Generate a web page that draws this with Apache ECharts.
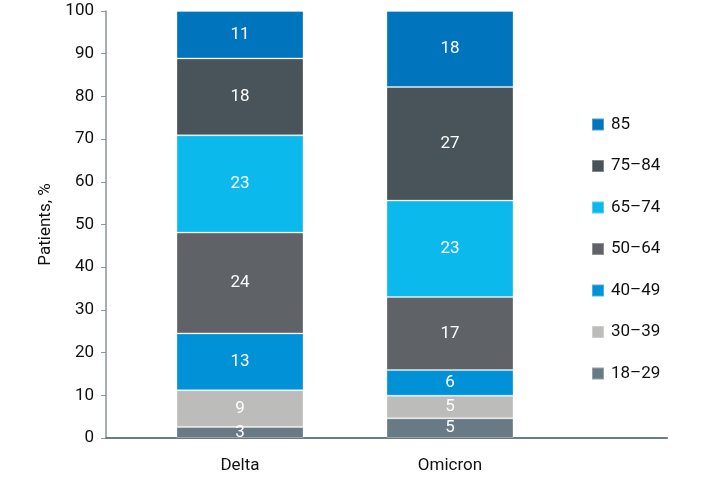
<!DOCTYPE html>
<html>
<head>
<meta charset="utf-8">
<script src="https://cdn.jsdelivr.net/npm/echarts@6/dist/echarts.min.js"></script>
<style>
  html, body { margin: 0; padding: 0; background: #fff; }
  #chart { width: 703px; height: 479px; }
</style>
</head>
<body>
<div id="chart"></div>
<script>
// variants on the x axis
const categories = ['Delta', 'Omicron'];
// age groups, bottom to top
const ageGroups = ['18\u201329', '30\u201339', '40\u201349', '50\u201364', '65\u201374', '75\u201384', '85'];
// share of patients (%) per age group: [Delta, Omicron]
const age18to29 = [2.6, 4.6];
const age30to39 = [8.6, 5.3];
const age40to49 = [13.3, 6.0];
const age50to64 = [23.6, 17.1];
const age65to74 = [22.8, 22.6];
const age75to84 = [18.0, 26.6];
const age85 = [11.1, 17.8];
const yTicks = [0, 10, 20, 30, 40, 50, 60, 70, 80, 90, 100];

const seriesValues = [age18to29, age30to39, age40to49, age50to64, age65to74, age75to84, age85];
const colors = ['#687a84', '#bcbcba', '#0091d6', '#5f6266', '#0cb9ed', '#485459', '#0075be'];
const font = "'Roboto', sans-serif";

let myChart = echarts.init(document.getElementById('chart'));
let option = {
  animation: false,
  textStyle: { fontFamily: font },
  legend: {
    orient: 'vertical',
    left: 586,
    top: 111,
    itemWidth: 12,
    itemHeight: 12,
    itemGap: 24.5,
    icon: 'rect',
    data: ageGroups.slice().reverse(),
    textStyle: { fontFamily: font, fontSize: 17, color: '#111', padding: [0, 0, 0, 2] }
  },
  grid: [
    // bars
    { left: 135, width: 420, top: 11, bottom: 41 },
    // axes frame
    { left: 106, right: 36, top: 11, bottom: 41 }
  ],
  xAxis: [
    {
      type: 'category',
      gridIndex: 0,
      data: categories,
      axisLine: { show: false },
      axisTick: { show: false },
      axisLabel: { margin: 19, fontSize: 17, color: '#111', fontFamily: font }
    },
    {
      type: 'value',
      gridIndex: 1,
      min: 0,
      max: 1,
      axisLine: { show: true, lineStyle: { color: '#6b7c85', width: 2 } },
      axisTick: { show: false },
      axisLabel: { show: false },
      splitLine: { show: false }
    }
  ],
  yAxis: [
    {
      type: 'value',
      gridIndex: 0,
      min: 0,
      max: 100,
      interval: 10,
      show: false
    },
    {
      type: 'value',
      gridIndex: 1,
      min: yTicks[0],
      max: yTicks[yTicks.length - 1],
      interval: yTicks[1] - yTicks[0],
      name: 'Patients, %',
      nameLocation: 'middle',
      nameGap: 52,
      nameTextStyle: { fontSize: 17, color: '#111', fontFamily: font },
      axisLine: { show: true, lineStyle: { color: '#8a9499', width: 1.5 } },
      axisTick: { show: true, length: 5, lineStyle: { color: '#8a9499' } },
      axisLabel: { margin: 12, fontSize: 17, color: '#111', fontFamily: font },
      splitLine: { show: false }
    }
  ],
  series: ageGroups.map((name, i) => ({
    name: name,
    type: 'bar',
    stack: 'total',
    xAxisIndex: 0,
    yAxisIndex: 0,
    barWidth: 127,
    data: seriesValues[i],
    itemStyle: { color: colors[i], borderColor: 'rgba(255,255,255,0.3)', borderWidth: 1 },
    label: {
      show: true,
      position: 'inside',
      color: '#fff',
      fontSize: 17,
      fontFamily: font,
      formatter: p => Math.round(p.value)
    }
  }))
};
myChart.setOption(option);
</script>
</body>
</html>
